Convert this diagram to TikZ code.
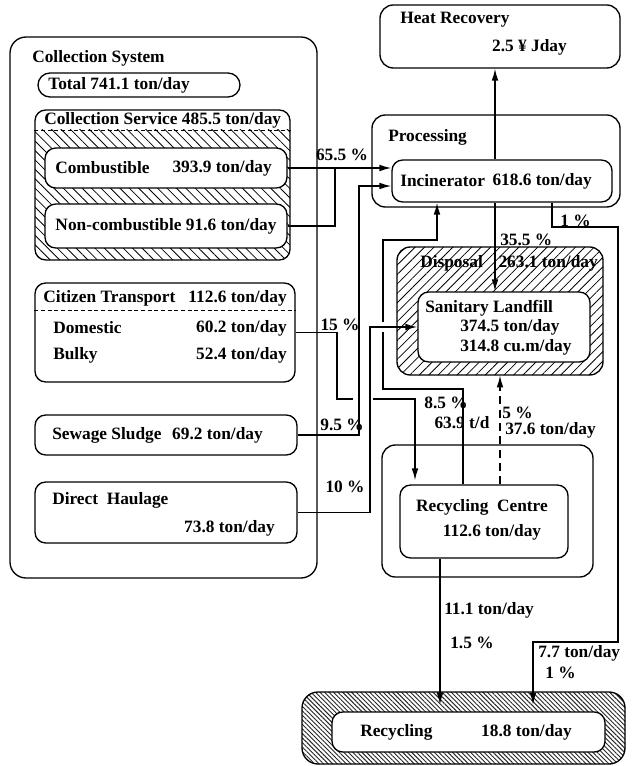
\documentclass[tikz,border=0pt]{standalone}
\usepackage{fontspec}
\setmainfont{Liberation Serif}
\usetikzlibrary{arrows.meta,patterns.meta,fit}

\begin{document}
\begin{tikzpicture}[x=0.75pt,y=-0.75pt,
  every node/.style={font=\fontsize{13}{15}\selectfont\bfseries},
  frame/.style={draw, line width=1pt, rounded corners=10pt, inner sep=0pt},
  inbox/.style={draw, line width=1pt, fill=white, rounded corners=8pt, inner sep=0pt},
  txt/.style={inner sep=0pt},
  conn/.style={line width=1pt},
  arr/.style={conn, -{Latex[length=9pt,width=5pt]}},
  dashconn/.style={arr, dash pattern=on 6pt off 4pt},
  hatchA/.style={pattern={Lines[angle=-45,distance=5pt,line width=0.6pt]}},
  hatchB/.style={pattern={Lines[angle=45,distance=5pt,line width=0.6pt]}},
  hatchC/.style={pattern={Lines[angle=-45,distance=2.4pt,line width=0.7pt]}, pattern color=black!85}
]
\useasboundingbox (0,0) rectangle (636,766);

% ---------------- Collection system ----------------
\node[frame, rounded corners=12pt, fit={(10,37)(317,578)}] (cs) {};
\node[txt, anchor=west] (cstitle) at (32,58) {Collection System};

\node[frame, rounded corners=9pt, fit={(38,73)(240,97)}] (total) {};
\node[txt, anchor=west] (totaltxt) at (48,85) {Total 741.1 ton/day};

% collection service, hatched below its heading
\begin{scope}
  \clip[rounded corners=8pt] (35,110) rectangle (290,260);
  \fill[hatchA] (35,130) rectangle (290,260);
\end{scope}
\node[frame, rounded corners=8pt, fit={(35,110)(290,260)}] (csv) {};
\draw[densely dashed, line width=0.6pt] (csv.west |- 0,130) -- (csv.east |- 0,130);
\node[txt, anchor=west] (csvtxt) at (44,120) {Collection Service 485.5 ton/day};

\node[inbox, fit={(45,148)(287,188)}] (comb) {};
\node[txt, anchor=west] (combtxt) at (55,168) {Combustible};
\node[txt, anchor=east] (combval) at (272,168) {393.9 ton/day};

\node[inbox, fit={(45,204)(287,248)}] (noncomb) {};
\node[txt] (noncombtxt) at (166,226) {Non-combustible 91.6 ton/day};

% citizen transport
\node[inbox, fit={(35,283)(295,382)}] (ct) {};
\draw[densely dashed, line width=0.6pt] (ct.west |- 0,310) -- (ct.east |- 0,310);
\node[txt, anchor=west] (cttxt) at (43,298) {Citizen Transport};
\node[txt, anchor=east] (ctval) at (287,298) {112.6 ton/day};
\node[txt, anchor=west] (domtxt) at (53,328) {Domestic};
\node[txt, anchor=east] (domval) at (287,328) {60.2 ton/day};
\node[txt, anchor=west] (bulktxt) at (53,355) {Bulky};
\node[txt, anchor=east] (bulkval) at (287,355) {52.4 ton/day};

\node[inbox, fit={(35,415)(297,455)}] (sew) {};
\node[txt, anchor=west] (sewtxt) at (52,435) {Sewage Sludge};
\node[txt, anchor=east] (sewval) at (263,435) {69.2 ton/day};

\node[inbox, fit={(35,482)(297,543)}] (dh) {};
\node[txt, anchor=west] (dhtxt) at (52,500) {Direct\ \ Haulage};
\node[txt, anchor=east] (dhval) at (275,528) {73.8 ton/day};

% ---------------- Heat recovery / processing ----------------
\node[frame, fit={(380,5)(620,68)}] (heat) {};
\node[txt, anchor=west] (heattxt) at (400,20) {Heat Recovery};
\node[txt, anchor=east] (heatval) at (567,47) {2.5 ¥ Jday};

\node[frame, fit={(372,115)(620,207)}] (proc) {};
\node[txt, anchor=west] (proctxt) at (388,137) {Processing};
\node[inbox, fit={(392,160)(612,202)}] (inc) {};
\node[txt, anchor=west] (inctxt) at (400,181) {Incinerator};
\node[txt, anchor=east] (incval) at (592,181) {618.6 ton/day};

% ---------------- Disposal ----------------
\node[frame, hatchB, fit={(397,247)(603,375)}] (disp) {};
\node[txt, anchor=west] (disptxt) at (420,263) {Disposal};
\node[txt, anchor=east] (dispval) at (598,263) {263.1 ton/day};
\node[inbox, fit={(418,292)(590,362)}] (lf) {};
\node[txt, anchor=west] (lftxt) at (425,308) {Sanitary Landfill};
\node[txt, anchor=west] (lfval1) at (460,327) {374.5 ton/day};
\node[txt, anchor=west] (lfval2) at (460,347) {314.8 cu.m/day};

% ---------------- Recycling centre ----------------
\node[frame, fit={(382,445)(593,577)}] (rco) {};
\node[inbox, fit={(400,485)(568,558)}] (rci) {};
\node[txt] (rcitxt) at (482,507) {Recycling\ \ Centre};
\node[txt] (rcival) at (492,532) {112.6 ton/day};

% ---------------- Recycling ----------------
\node[frame, hatchC, rounded corners=12pt, fit={(302,692)(625,764)}] (reco) {};
\node[inbox, fit={(332,712)(605,752)}] (rec) {};
\node[txt, anchor=west] (rectxt) at (360,732) {Recycling};
\node[txt, anchor=east] (recval) at (572,732) {18.8 ton/day};

% ---------------- bend points ----------------
\coordinate (xheat) at (495,0);
\coordinate (xjoin) at (335,0);
\coordinate (xsew) at (359,0);
\coordinate (xdh) at (370,0);
\coordinate (xct) at (337,0);
\coordinate (xctdown) at (415,0);
\coordinate (xres) at (383,0);
\coordinate (xrcup) at (463,0);
\coordinate (xincin) at (437,0);
\coordinate (xone) at (552,0);
\coordinate (xright) at (618,0);
\coordinate (xsevenseven) at (533,0);
\coordinate (xrcdown) at (440,0);
\coordinate (xdash) at (500,0);

% ---------------- connectors ----------------
% incinerator -> heat recovery
\draw[arr] (inc.north -| xheat) -- (heat.south -| xheat);

% combustible / non-combustible -> incinerator
\draw[arr] (comb.east) -- (comb.east -| inc.west);
\draw[conn] (noncomb.east) -| (xjoin |- comb.east);
\node[txt] (l655) at (342,155) {65.5 \%};

% sewage sludge -> incinerator
\draw[arr] (sew.east) -| (xsew |- 0,186) -- (inc.west |- 0,186);
\node[txt] (l95) at (342,425) {9.5 \%};

% citizen transport -> recycling centre (jumps the two verticals)
\draw[conn] (ct.east) -| (xct |- 0,399) -- (353,399);
\draw[arr] (373,399) -- (xctdown |- 0,399) -- ([yshift=3pt]rci.north -| xctdown);
\node[txt] (l15) at (340,325) {15 \%};

% direct haulage -> sanitary landfill
\draw[arr] (dh.east) -| (xdh |- lf.west) -- (lf.west);
\node[txt] (l10) at (345,487) {10 \%};

% recycling centre residue -> incinerator
\draw[conn] (rci.north -| xrcup) -- (xrcup |- 0,389) -- (xres |- 0,389) -- (xres |- 0,332);
\draw[arr] (xres |- 0,322) -- (xres |- 0,240) -- (xincin |- 0,240) -- (inc.south -| xincin);
\node[txt] (l85) at (446,403) {8.5 \%};
\node[txt] (l639) at (462,423) {63.9 t/d};

% incinerator -> sanitary landfill
\draw[arr] (inc.south -| xheat) -- (lf.north -| xheat);
\node[txt, anchor=west] (l355) at (500,240) {35.5 \%};

% incinerator -> recycling (1 %)
\draw[arr] (inc.south -| xone) -- (xone |- 0,227) -- (xright |- 0,227) -- (xright |- 0,642)
  -- (xsevenseven |- 0,642) -- ([yshift=5pt]rec.north -| xsevenseven);
\node[txt, anchor=west] (l1a) at (560,221) {1 \%};
\node[txt, anchor=west] (l77) at (538,653) {7.7 ton/day};
\node[txt, anchor=west] (l1b) at (545,673) {1 \%};

% recycling centre -> recycling
\draw[arr] (rci.south -| xrcdown) -- ([yshift=5pt]rec.north -| xrcdown);
\node[txt, anchor=west] (l111) at (444,610) {11.1 ton/day};
\node[txt, anchor=west] (l15b) at (450,643) {1.5 \%};

% recycling centre -> sanitary landfill (dashed)
\draw[dashconn] (rci.north -| xdash) -- (disp.south -| xdash);
\node[txt, anchor=west] (l5) at (502,413) {5 \%};
\node[txt, anchor=west] (l376) at (505,430) {37.6 ton/day};
\end{tikzpicture}
\end{document}
